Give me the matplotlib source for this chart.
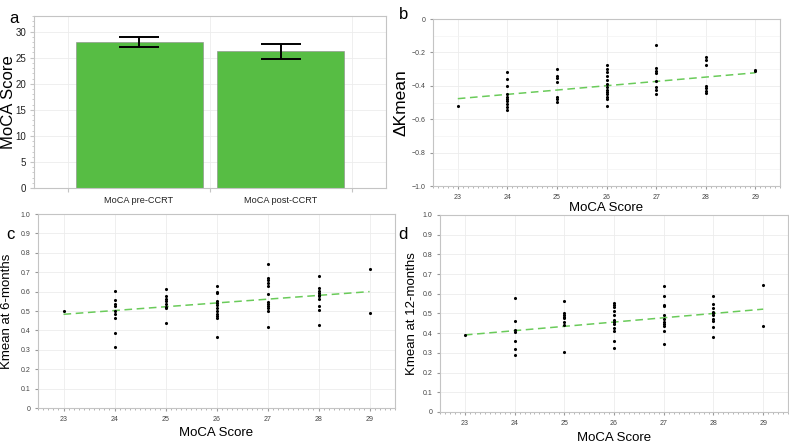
import matplotlib.pyplot as plt
from matplotlib.ticker import FixedLocator, FixedFormatter, MultipleLocator

plt.rcParams['font.family'] = ['Liberation Sans', 'DejaVu Sans']

# panel a: bar chart
bar_labels = ['MoCA pre-CCRT', 'MoCA post-CCRT']
bar_means = [28.1, 26.2]
bar_err_low = [27.05, 24.7]
bar_err_high = [29.05, 27.7]

# MoCA scores on x for the scatter panels
scores = [23, 24, 25, 26, 27, 28, 29]

# panel b: delta Kmean per MoCA score
dk = [
    [-0.52],
    [-0.32, -0.36, -0.40, -0.45, -0.465, -0.48, -0.49, -0.51, -0.525, -0.545],
    [-0.30, -0.34, -0.355, -0.375, -0.47, -0.48, -0.495],
    [-0.275, -0.297, -0.317, -0.34, -0.365, -0.39, -0.405, -0.425, -0.437, -0.45, -0.465, -0.48, -0.52],
    [-0.155, -0.295, -0.31, -0.325, -0.37, -0.405, -0.425, -0.45],
    [-0.225, -0.247, -0.275, -0.40, -0.415, -0.43, -0.445],
    [-0.303, -0.313],
]
dk_fit = [-0.477, -0.322]

# panel c: Kmean at 6 months
k6 = [
    [0.502],
    [0.604, 0.555, 0.538, 0.528, 0.50, 0.482, 0.463, 0.389, 0.315],
    [0.614, 0.575, 0.562, 0.55, 0.537, 0.52, 0.515, 0.44],
    [0.63, 0.60, 0.593, 0.55, 0.54, 0.53, 0.515, 0.50, 0.485, 0.473, 0.466, 0.364],
    [0.74, 0.668, 0.66, 0.645, 0.63, 0.589, 0.545, 0.535, 0.524, 0.514, 0.50, 0.419],
    [0.68, 0.62, 0.603, 0.592, 0.585, 0.578, 0.561, 0.524, 0.504, 0.429],
    [0.714, 0.489],
]
k6_fit = [0.483, 0.600]

# panel d: Kmean at 12 months
k12 = [
    [0.391],
    [0.581, 0.461, 0.415, 0.405, 0.362, 0.322, 0.29],
    [0.565, 0.50, 0.49, 0.482, 0.476, 0.455, 0.44, 0.302],
    [0.554, 0.544, 0.532, 0.515, 0.494, 0.465, 0.457, 0.447, 0.426, 0.412, 0.362, 0.327],
    [0.64, 0.591, 0.545, 0.54, 0.491, 0.474, 0.458, 0.447, 0.437, 0.411, 0.346],
    [0.591, 0.547, 0.527, 0.51, 0.501, 0.491, 0.474, 0.46, 0.433, 0.382],
    [0.645, 0.437],
]
k12_fit = [0.391, 0.522]

green = '#57bd44'
spine_col = '#c4c4c4'
grid_col = '#ececec'
tick_col = '#444444'

fig = plt.figure(figsize=(7.89, 4.43), dpi=100)
ax_a = fig.add_axes([0.0431, 0.5756, 0.4461, 0.3883])
ax_b = fig.add_axes([0.5488, 0.5801, 0.4398, 0.3770])
ax_c = fig.add_axes([0.0482, 0.0790, 0.4525, 0.4379])
ax_d = fig.add_axes([0.5577, 0.0700, 0.4411, 0.4447])


def style_box(ax):
    for s in ax.spines.values():
        s.set_color(spine_col)
        s.set_linewidth(0.8)
    ax.set_axisbelow(True)


# ---- panel a ----
style_box(ax_a)
xs = list(range(len(bar_labels)))
ax_a.bar(xs, bar_means, width=0.895, color=green, edgecolor='#8a8a8a', linewidth=0.4)
yerr = [[m - lo for m, lo in zip(bar_means, bar_err_low)],
        [hi - m for m, hi in zip(bar_means, bar_err_high)]]
ax_a.errorbar(xs, bar_means, yerr=yerr, fmt='none', ecolor='black',
              elinewidth=1.4, capsize=14.5, capthick=1.4)
ax_a.set_xlim(-0.74, 1.74)
ax_a.set_ylim(0, 33)
ax_a.xaxis.set_major_locator(FixedLocator([-0.5, 0.5, 1.5]))
ax_a.xaxis.set_major_formatter(FixedFormatter(['', '', '']))
ax_a.xaxis.set_minor_locator(FixedLocator(xs))
ax_a.xaxis.set_minor_formatter(FixedFormatter(bar_labels))
ax_a.tick_params(axis='x', which='major', length=3, color=spine_col)
ax_a.tick_params(axis='x', which='minor', length=0, labelsize=6.6, pad=6, labelcolor='#222222')
ax_a.yaxis.set_major_locator(MultipleLocator(5))
ax_a.yaxis.set_minor_locator(MultipleLocator(1))
ax_a.tick_params(axis='y', which='major', length=3, labelsize=7, pad=2.5,
                 color=spine_col, labelcolor='#222222')
ax_a.tick_params(axis='y', which='minor', length=1.5, color=spine_col)
ax_a.grid(axis='y', color=grid_col, linewidth=0.6)
ax_a.grid(axis='x', which='major', color=grid_col, linewidth=0.6)
ax_a.set_ylabel('MoCA Score', fontsize=12)
ax_a.yaxis.set_label_coords(-0.052, 0.5)


def scatter_panel(ax, vals, fit, ylim, yticks, ylabs, xpad):
    style_box(ax)
    px, py = [], []
    for sc, col in zip(scores, vals):
        px += [sc] * len(col)
        py += col
    ax.scatter(px, py, s=5, color='black', zorder=3, linewidths=0)
    ax.plot([scores[0], scores[-1]], fit, color='#6acb5a', lw=1.1,
            dashes=(5, 3), zorder=2)
    ax.set_xlim(22.5, 29.5)
    ax.set_ylim(*ylim)
    ax.set_xticks(scores)
    ax.set_xticklabels([str(s) for s in scores])
    ax.xaxis.set_minor_locator(MultipleLocator(0.1))
    ax.yaxis.set_major_locator(FixedLocator(yticks))
    ax.yaxis.set_major_formatter(FixedFormatter(ylabs))
    ax.tick_params(which='major', length=2.5, labelsize=5, color='#999999',
                   labelcolor=tick_col, pad=3)
    ax.tick_params(which='minor', length=1.5, color='#aaaaaa')
    ax.tick_params(axis='y', which='minor', length=0)
    ax.grid(which='major', color=grid_col, linewidth=0.6)
    ax.set_xlabel('MoCA Score', fontsize=9.5, labelpad=xpad)
    return ax


scatter_panel(ax_b, dk, dk_fit, (-1.0, 0.0),
              [-1.0, -0.8, -0.6, -0.4, -0.2, 0.0],
              ['\u22121.0', '\u22120.8', '\u22120.6', '\u22120.4', '\u22120.2', '0'], 1)
ax_b.yaxis.set_minor_locator(MultipleLocator(0.1))
ax_b.grid(axis='y', which='minor', color='#f3f3f3', linewidth=0.5)
ax_b.set_ylabel('\u0394Kmean', fontsize=12.5)
ax_b.yaxis.set_label_coords(-0.07, 0.5)

ticks01 = [i / 10 for i in range(11)]
labs01 = ['0'] + ['%.1f' % t for t in ticks01[1:]]
scatter_panel(ax_c, k6, k6_fit, (0, 1.0), ticks01, labs01, 3)
ax_c.set_ylabel('Kmean at 6-months', fontsize=9.5)
ax_c.yaxis.set_label_coords(-0.07, 0.5)
scatter_panel(ax_d, k12, k12_fit, (0, 1.0), ticks01, labs01, 4)
ax_d.set_ylabel('Kmean at 12-months', fontsize=9.5)
ax_d.yaxis.set_label_coords(-0.063, 0.5)

# panel letters
fig.text(0.012, 0.975, 'a', fontsize=12, va='top')
fig.text(0.505, 0.985, 'b', fontsize=12, va='top')
fig.text(0.008, 0.487, 'c', fontsize=12, va='top')
fig.text(0.505, 0.487, 'd', fontsize=12, va='top')

fig.savefig('out.png', dpi=100)
